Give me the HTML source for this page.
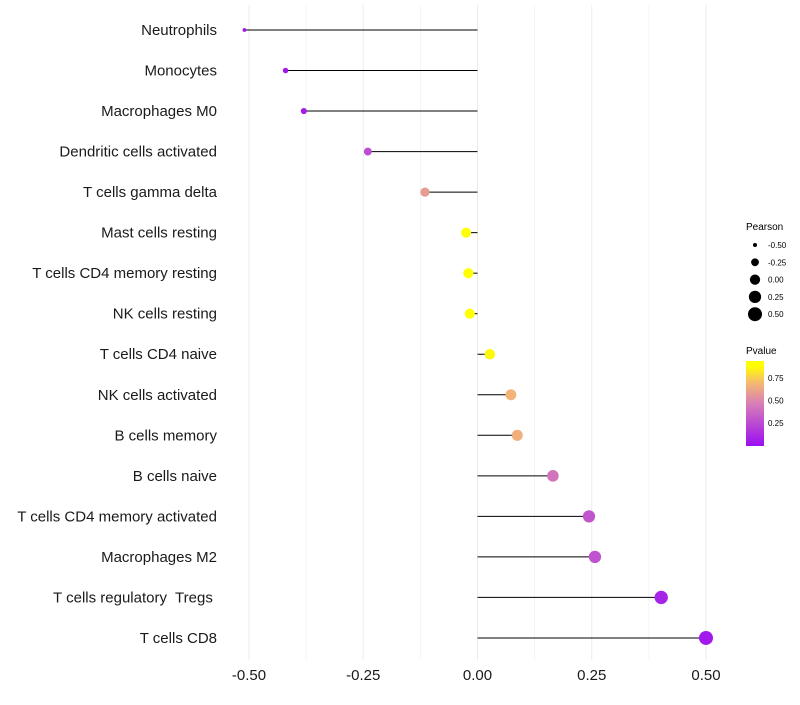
<!DOCTYPE html>
<html><head><meta charset="utf-8"><style>
body{margin:0;background:#fff;}
svg text{font-family:"Liberation Sans",sans-serif;white-space:pre;}
</style></head><body>
<svg id="chart" width="800" height="700">
<defs><linearGradient id="pg" x1="0" y1="1" x2="0" y2="0">
<stop offset="0" stop-color="#9b0ef2"/><stop offset="0.5" stop-color="#d77fb6"/><stop offset="0.75" stop-color="#f6bb6e"/><stop offset="0.94" stop-color="#ffff00"/></linearGradient></defs>
<g id="grid"></g><g id="marks"></g><g id="labels"></g>
<g>
<text x="746" y="230" font-size="10">Pearson</text>
<g id="sizeLeg"></g>
</g>
<g>
<text x="746" y="354" font-size="10">Pvalue</text>
<rect x="746" y="361" width="18" height="85" fill="url(#pg)"/>
<g id="colLeg"></g>
</g>
</svg>
<script>
const cells=["Neutrophils","Monocytes","Macrophages M0","Dendritic cells activated","T cells gamma delta","Mast cells resting","T cells CD4 memory resting","NK cells resting","T cells CD4 naive","NK cells activated","B cells memory","B cells naive","T cells CD4 memory activated","Macrophages M2","T cells regulatory  Tregs ","T cells CD8"];
const pearson=[-0.51,-0.42,-0.38,-0.24,-0.115,-0.025,-0.02,-0.017,0.027,0.073,0.087,0.165,0.244,0.257,0.402,0.50];
const pvalue=[0.03,0.05,0.06,0.28,0.62,0.95,0.95,0.95,0.92,0.72,0.7,0.45,0.32,0.3,0.1,0.05];
const xTicks=[-0.5,-0.25,0,0.25,0.5];
const xTickLabels=["-0.50","-0.25","0.00","0.25","0.50"];
const sizeLegVals=[-0.5,-0.25,0,0.25,0.5];
const sizeLegLabels=["-0.50","-0.25","0.00","0.25","0.50"];
const colLegVals=[0.25,0.5,0.75];
const colLegLabels=["0.25","0.50","0.75"];
const NS="http://www.w3.org/2000/svg";
const X=v=>477.5+v*457;
const Y=i=>30+i*40.53;
const R=v=>Math.sqrt(Math.max(1,4+(v+0.5)*45));
const PY=p=>445.5-p*90;
function lerp(a,b,t){return Math.round(a+(b-a)*t);}
function col(p){const st=[[0,[155,14,242]],[0.5,[215,127,182]],[0.75,[246,187,110]],[0.94,[255,255,0]],[1,[255,255,0]]];
for(let i=0;i<st.length-1;i++){if(p<=st[i+1][0]){const t=(p-st[i][0])/(st[i+1][0]-st[i][0]);const a=st[i][1],b=st[i+1][1];return `rgb(${lerp(a[0],b[0],t)},${lerp(a[1],b[1],t)},${lerp(a[2],b[2],t)})`;}}return "rgb(255,255,0)";}
function mk(t,a,parent){const e=document.createElementNS(NS,t);for(const k in a)e.setAttribute(k,a[k]);document.getElementById(parent).appendChild(e);return e;}
for(let v=-0.5;v<=0.5001;v+=0.125){
 const g=mk("line",{x1:X(v),x2:X(v),y1:5,y2:660,stroke:"#ebebeb","stroke-width":Math.abs(v*4-Math.round(v*4))<0.01?1:0.5},"grid");
 
 
}
cells.forEach((c,i)=>{
 const l=mk("line",{x1:X(0),x2:X(pearson[i]),y1:Y(i),y2:Y(i),stroke:"#000","stroke-width":1},"marks");
 
 
 const d=mk("circle",{cx:X(pearson[i]),cy:Y(i),r:R(pearson[i]),fill:col(pvalue[i])},"marks");
 
 
 const t=mk("text",{x:217,y:Y(i)+5,"text-anchor":"end","font-size":15,fill:"#1a1a1a"},"labels");
 t.textContent=c;
 
 
});
xTicks.forEach((v,i)=>{
 const t=mk("text",{x:X(v),y:680,"text-anchor":"middle","font-size":15,fill:"#1a1a1a"},"labels");
 t.textContent=xTickLabels[i];
 
 
});
sizeLegVals.forEach((v,i)=>{
 const y=245+i*17.3;
 const c=mk("circle",{cx:755,cy:y,r:R(v),fill:"#000"},"sizeLeg");
 
 
 const t=mk("text",{x:768,y:y+3,"font-size":8},"sizeLeg");
 t.textContent=sizeLegLabels[i];
 
 
});
colLegVals.forEach((v,i)=>{
 const t=mk("text",{x:768,y:PY(v)+3,"font-size":8},"colLeg");
 t.textContent=colLegLabels[i];
 
 
});
</script>
</body></html>
